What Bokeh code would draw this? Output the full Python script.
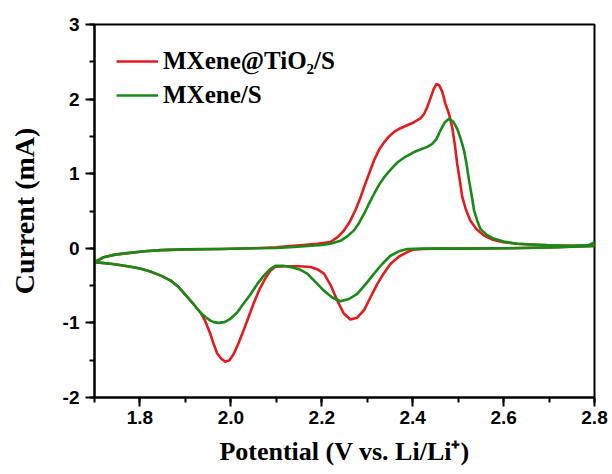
from bokeh.plotting import figure
from bokeh.models import FixedTicker, NumeralTickFormatter, Range1d, Legend, LegendItem
from bokeh.embed import file_html
from bokeh.resources import INLINE

# ---- data ----
red_x_fwd = [1.70, 1.72, 1.745, 1.773, 1.81, 1.847, 1.90, 1.979, 2.05, 2.10,
             2.131, 2.16, 2.19, 2.219, 2.235, 2.249, 2.262, 2.274, 2.284, 2.293,
             2.304, 2.315, 2.326, 2.337, 2.348, 2.359, 2.373, 2.388, 2.403, 2.417,
             2.425, 2.432, 2.439, 2.446, 2.452, 2.458, 2.465, 2.472, 2.48, 2.487,
             2.493, 2.498, 2.504, 2.509, 2.517, 2.527, 2.54, 2.557, 2.578, 2.60,
             2.63, 2.66, 2.70, 2.75, 2.80]
red_y_fwd = [-0.185, -0.12, -0.085, -0.065, -0.04, -0.025, -0.015, -0.01, 0.0, 0.015,
             0.03, 0.045, 0.06, 0.085, 0.15, 0.24, 0.36, 0.51, 0.66, 0.82,
             1.00, 1.18, 1.32, 1.42, 1.50, 1.56, 1.61, 1.65, 1.69, 1.74,
             1.80, 1.89, 2.01, 2.13, 2.20, 2.19, 2.10, 1.94, 1.80, 1.62,
             1.38, 1.13, 0.90, 0.69, 0.52, 0.37, 0.26, 0.17, 0.11, 0.08,
             0.06, 0.05, 0.04, 0.035, 0.04]
red_x_rev = [2.80, 2.75, 2.70, 2.60, 2.50, 2.45, 2.424, 2.40, 2.388, 2.37,
             2.351, 2.336, 2.322, 2.307, 2.293, 2.278, 2.263, 2.248, 2.234, 2.22,
             2.205, 2.19, 2.175, 2.15, 2.12, 2.098, 2.087, 2.077, 2.063, 2.05,
             2.039, 2.028, 2.017, 2.006, 1.997, 1.988, 1.979, 1.97, 1.962, 1.955,
             1.944, 1.933, 1.918, 1.904, 1.885, 1.867, 1.847, 1.823, 1.80, 1.773,
             1.74, 1.70]
red_y_rev = [0.03, 0.02, 0.01, 0.0, -0.005, -0.005, -0.01, -0.02, -0.05, -0.11,
             -0.21, -0.34, -0.48, -0.66, -0.83, -0.93, -0.955, -0.87, -0.70, -0.50,
             -0.34, -0.28, -0.25, -0.24, -0.24, -0.245, -0.30, -0.39, -0.55, -0.74,
             -0.92, -1.10, -1.27, -1.42, -1.50, -1.52, -1.48, -1.41, -1.28, -1.15,
             -0.98, -0.86, -0.75, -0.65, -0.52, -0.43, -0.37, -0.31, -0.27, -0.24,
             -0.21, -0.185]

green_x_fwd = [1.70, 1.72, 1.745, 1.773, 1.81, 1.847, 1.90, 1.979, 2.05, 2.10,
               2.131, 2.17, 2.20, 2.219, 2.241, 2.256, 2.271, 2.282, 2.293, 2.304,
               2.315, 2.326, 2.337, 2.351, 2.366, 2.385, 2.403, 2.42, 2.432, 2.443,
               2.452, 2.461, 2.471, 2.480, 2.489, 2.498, 2.506, 2.513, 2.519, 2.524,
               2.53, 2.535, 2.542, 2.549, 2.563, 2.578, 2.60, 2.63, 2.66, 2.70,
               2.75, 2.785, 2.80]
green_y_fwd = [-0.185, -0.12, -0.085, -0.065, -0.04, -0.025, -0.015, -0.01, 0.0, 0.005,
               0.015, 0.03, 0.045, 0.06, 0.10, 0.16, 0.24, 0.34, 0.46, 0.60,
               0.73, 0.85, 0.95, 1.05, 1.15, 1.23, 1.29, 1.33, 1.36, 1.40,
               1.46, 1.58, 1.69, 1.735, 1.70, 1.60, 1.46, 1.31, 1.11, 0.91,
               0.70, 0.51, 0.37, 0.26, 0.18, 0.13, 0.09, 0.06, 0.05, 0.04,
               0.035, 0.04, 0.08]
green_x_rev = [2.80, 2.75, 2.70, 2.60, 2.50, 2.42, 2.388, 2.37, 2.351, 2.333,
               2.315, 2.298, 2.278, 2.26, 2.241, 2.223, 2.205, 2.186, 2.168, 2.15,
               2.131, 2.115, 2.098, 2.087, 2.072, 2.058, 2.043, 2.028, 2.014, 1.999,
               1.986, 1.973, 1.962, 1.955, 1.944, 1.933, 1.918, 1.904, 1.885, 1.867,
               1.847, 1.823, 1.80, 1.773, 1.74, 1.70]
green_y_rev = [0.03, 0.02, 0.01, 0.0, -0.005, -0.005, -0.01, -0.04, -0.10, -0.21,
               -0.34, -0.47, -0.61, -0.68, -0.71, -0.66, -0.57, -0.45, -0.34, -0.28,
               -0.25, -0.235, -0.235, -0.275, -0.37, -0.48, -0.62, -0.74, -0.86, -0.945,
               -0.99, -1.00, -0.99, -0.97, -0.92, -0.86, -0.75, -0.65, -0.52, -0.43,
               -0.37, -0.31, -0.27, -0.24, -0.21, -0.185]

series_labels = ["MXene@TiO\u2082/S", "MXene/S"]
x_major_ticks = [1.8, 2.0, 2.2, 2.4, 2.6, 2.8]
x_minor_ticks = [1.7, 1.8, 1.9, 2.0, 2.1, 2.2, 2.3, 2.4, 2.5, 2.6, 2.7, 2.8]
y_major_ticks = [-2, -1, 0, 1, 2, 3]
y_minor_ticks = [-2, -1.5, -1, -0.5, 0, 0.5, 1, 1.5, 2, 2.5, 3]

RED = "#E41A1C"
GREEN = "#178A17"

p = figure(width=612, height=474, output_backend="svg", toolbar_location=None,
           x_range=Range1d(1.7, 2.8), y_range=Range1d(-2, 3),
           min_border_left=94, min_border_right=18, min_border_top=24, min_border_bottom=77)

p.xgrid.visible = False
p.ygrid.visible = False
p.outline_line_color = "black"
p.outline_line_width = 2
p.background_fill_color = "white"
p.border_fill_color = "white"

r_red = p.line(red_x_fwd + red_x_rev, red_y_fwd + red_y_rev, line_color=RED,
               line_width=2.6, line_join="round")
r_green = p.line(green_x_fwd + green_x_rev, green_y_fwd + green_y_rev, line_color=GREEN,
                 line_width=2.6, line_join="round")

for ax in (p.xaxis[0], p.yaxis[0]):
    ax.axis_line_width = 2
    ax.axis_line_color = "black"
    ax.major_tick_line_width = 2
    ax.minor_tick_line_width = 2
    ax.major_tick_out = 9
    ax.major_tick_in = 0
    ax.minor_tick_out = 5
    ax.minor_tick_in = 0
    ax.major_label_text_font = "Liberation Sans"
    ax.major_label_text_font_style = "bold"
    ax.major_label_text_font_size = "19px"
    ax.major_label_text_color = "black"
    ax.axis_label_text_font = "Liberation Serif"
    ax.axis_label_text_font_style = "bold"
    ax.axis_label_text_color = "black"

p.xaxis[0].ticker = FixedTicker(ticks=x_major_ticks, minor_ticks=x_minor_ticks)
p.yaxis[0].ticker = FixedTicker(ticks=y_major_ticks, minor_ticks=y_minor_ticks)
p.xaxis[0].formatter = NumeralTickFormatter(format="0.0")
p.yaxis[0].formatter = NumeralTickFormatter(format="0")
p.xaxis[0].major_label_standoff = 4
p.yaxis[0].major_label_standoff = 6

p.xaxis[0].axis_label = "Potential (V vs. Li/Li\u207a)"
p.xaxis[0].axis_label_text_font_size = "26px"
p.xaxis[0].axis_label_standoff = 10
p.yaxis[0].axis_label = "Current (mA)"
p.yaxis[0].axis_label_text_font_size = "28px"
p.yaxis[0].axis_label_standoff = 20

legend = Legend(items=[LegendItem(label=series_labels[0], renderers=[r_red]),
                       LegendItem(label=series_labels[1], renderers=[r_green])],
                location="top_left")
legend.margin = 0
legend.padding = 22
legend.spacing = 4
legend.glyph_width = 42
legend.glyph_height = 30
legend.label_height = 30
legend.label_standoff = 5
legend.label_text_font = "Liberation Serif"
legend.label_text_font_style = "bold"
legend.label_text_font_size = "25px"
legend.label_text_color = "black"
legend.border_line_alpha = 0
legend.background_fill_alpha = 0
p.add_layout(legend)

open("out.html", "w").write(file_html(p, INLINE))
